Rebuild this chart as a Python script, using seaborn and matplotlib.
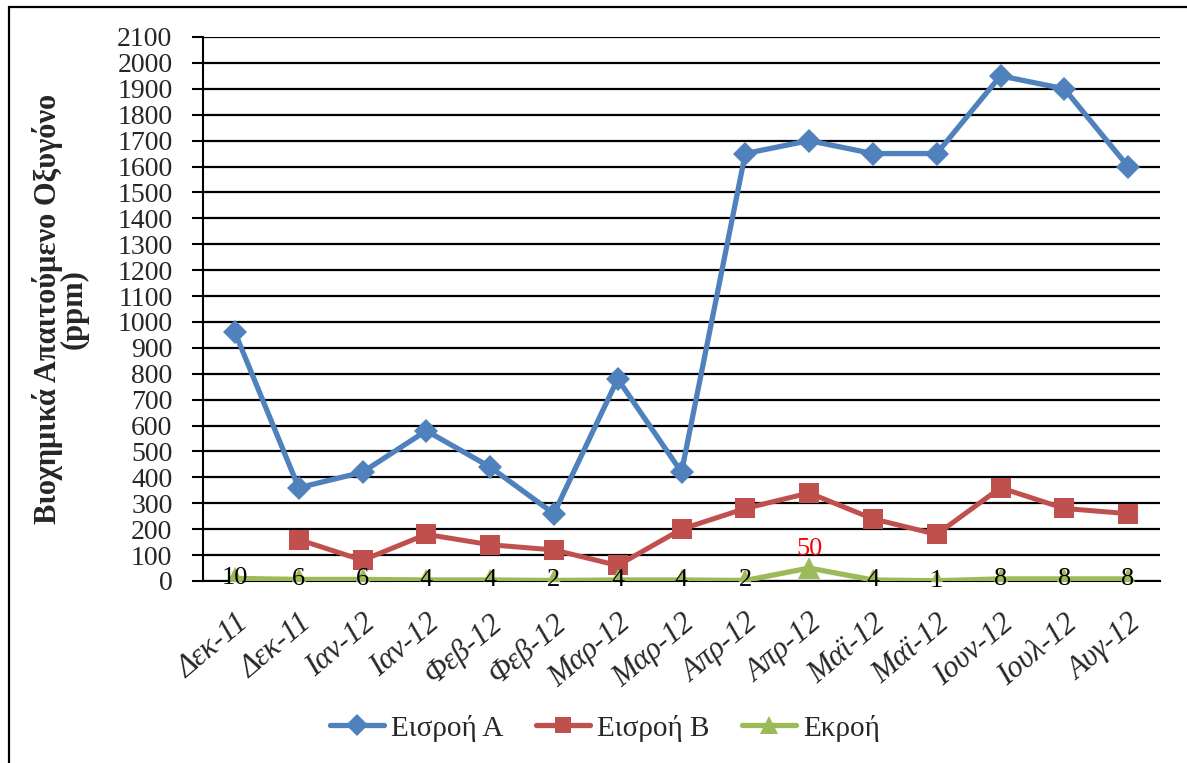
import numpy as np
import pandas as pd
import matplotlib
matplotlib.use("Agg")
import matplotlib.pyplot as plt
from matplotlib.lines import Line2D
import seaborn as sns

months = ["Δεκ-11", "Δεκ-11", "Ιαν-12", "Ιαν-12", "Φεβ-12", "Φεβ-12", "Μαρ-12",
          "Μαρ-12", "Απρ-12", "Απρ-12", "Μαϊ-12", "Μαϊ-12", "Ιουν-12", "Ιουλ-12", "Αυγ-12"]
inflow_a = [960, 360, 420, 580, 440, 260, 780, 420, 1650, 1700, 1650, 1650, 1950, 1900, 1600]
inflow_b = [np.nan, 160, 80, 180, 140, 120, 60, 200, 280, 340, 240, 180, 360, 280, 260]
outflow = [10, 6, 6, 4, 4, 2, 4, 4, 2, 50, 4, 1, 8, 8, 8]
y_ticks = list(range(0, 2101, 100))

series_names = ["Εισροή A", "Εισροή B", "Εκροή"]
colors = ["#4F81BD", "#C0504D", "#9BBB59"]

sns.set_style("white")
plt.rcParams["font.family"] = ["Liberation Serif", "DejaVu Serif"]

W, H = 1187, 763
fig = plt.figure(figsize=(W / 100, H / 100), dpi=100)
ax = fig.add_axes([203 / W, 1 - 581 / H, (1160 - 203) / W, (581 - 37) / H])

x = np.arange(len(months))
df = pd.DataFrame({"x": x, "A": inflow_a, "B": inflow_b, "E": outflow})

sns.lineplot(data=df, x="x", y="A", ax=ax, color=colors[0], lw=3.8,
             marker="D", markersize=12, markeredgewidth=0, label=series_names[0], zorder=4)
sns.lineplot(data=df.dropna(), x="x", y="B", ax=ax, color=colors[1], lw=3.6,
             marker="s", markersize=14, markeredgewidth=0, label=series_names[1], zorder=4)
sns.lineplot(data=df, x="x", y="E", ax=ax, color=colors[2], lw=3.8,
             marker="^", markersize=16, markeredgewidth=0, label=series_names[2], zorder=4)

# value labels on the effluent series
for xi, v in zip(x, outflow):
    if v >= 20:
        ax.annotate(str(v), (xi, v), xytext=(0, 14), textcoords="offset points",
                    ha="center", va="center", fontsize=19, color="red", zorder=6)
    else:
        ax.text(xi, v, str(v), ha="center", va="center", fontsize=19,
                color="black", zorder=6)

ax.set_xlim(-0.5, len(months) - 0.5)
ax.set_ylim(0, 2100)
ax.set_yticks(y_ticks)
ax.set_yticklabels([str(t) for t in y_ticks], fontsize=20)
ax.set_xticks(x)
ax.set_xticklabels(months, fontsize=22, style="italic", rotation=40,
                   ha="right", rotation_mode="anchor")
ax.set_xticks(np.arange(-0.5, len(months), 1.0), minor=True)
ax.tick_params(axis="x", which="major", length=0, pad=20)
ax.tick_params(axis="x", which="minor", length=8, width=1.5, direction="out", color="black")
ax.tick_params(axis="y", which="major", length=8, width=1.5, direction="out",
               color="black", pad=14, left=True)
ax.grid(axis="y", color="black", lw=1.6, zorder=1)
ax.grid(axis="x", visible=False)
for side in ["top", "right"]:
    ax.spines[side].set_visible(False)
for side in ["left", "bottom"]:
    ax.spines[side].set_color("black")
    ax.spines[side].set_linewidth(1.5)
ax.set_axisbelow(True)

ax.set_xlabel("")
ax.set_ylabel("Βιοχημικά Απαιτούμενο Οξυγόνο\n(ppm)", fontsize=22,
              fontweight="bold", linespacing=0.85)
ax.yaxis.set_label_coords((89 - 203) / (1160 - 203), 0.5)

ax.get_legend().remove()
handles = [Line2D([0], [0], color=c, lw=3.8, marker=m, markersize=s, markeredgewidth=0)
           for c, m, s in zip(colors, ["D", "s", "^"], [11, 12, 13])]
fig.legend(handles, series_names, loc="center", bbox_to_anchor=(605 / W, 1 - 728 / H),
           ncol=3, frameon=False, fontsize=21, handlelength=1.85, handletextpad=0.25,
           columnspacing=1.1)

# outer frame of the figure
fig.add_artist(Line2D([9.5 / W, 9.5 / W], [0, 1 - 7 / H], transform=fig.transFigure,
                      color="black", lw=1.6))
fig.add_artist(Line2D([9.5 / W, 1], [1 - 7 / H, 1 - 7 / H], transform=fig.transFigure,
                      color="black", lw=1.6))

fig.savefig("out.png", dpi=100)
